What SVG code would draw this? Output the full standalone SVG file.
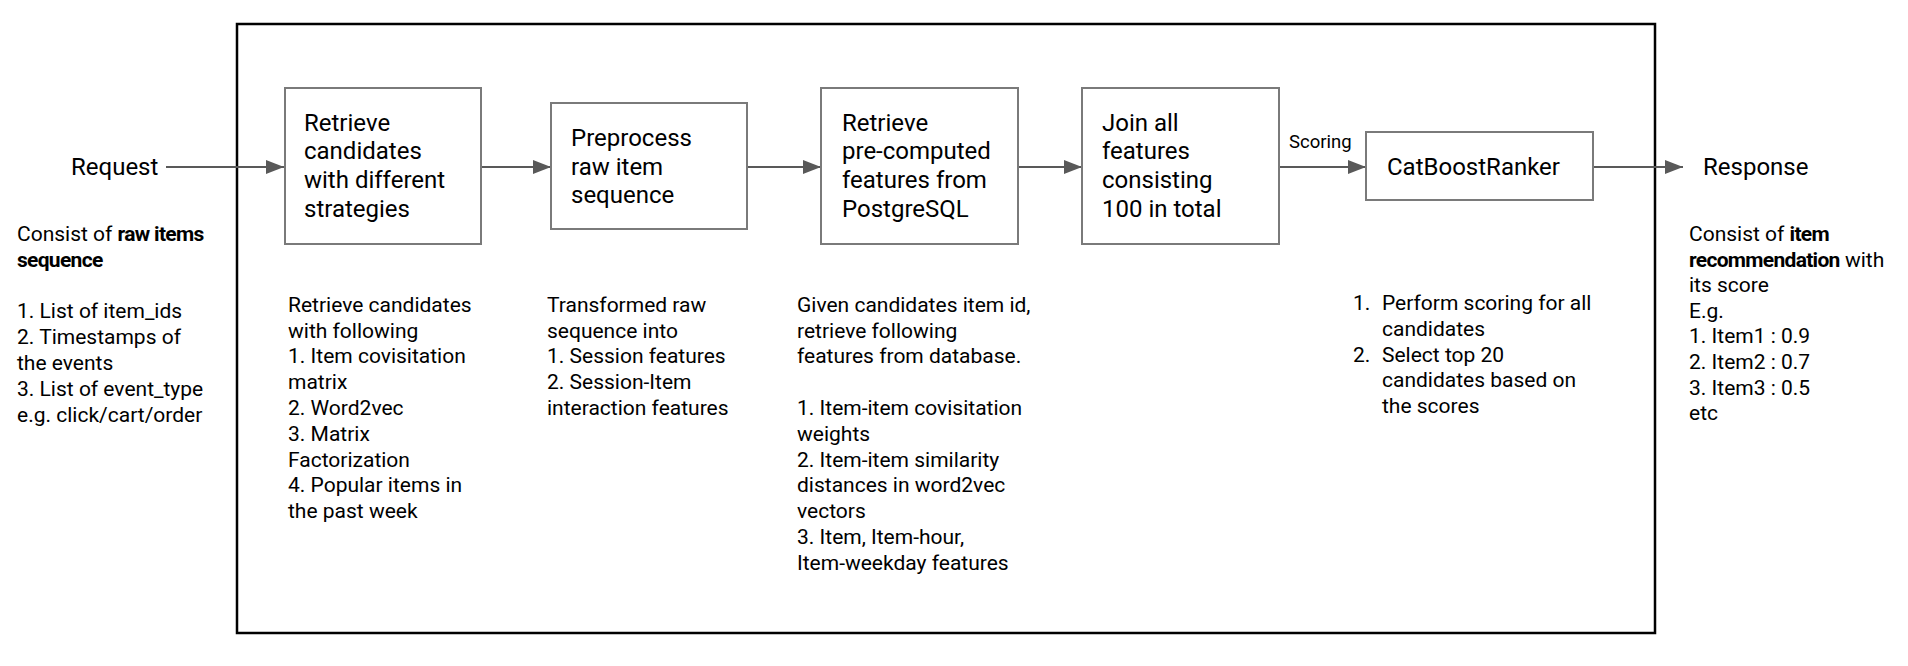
<svg xmlns="http://www.w3.org/2000/svg" width="1908" height="666" viewBox="0 0 1908 666">
<style>
text{font-family:Roboto,"Liberation Sans",sans-serif;fill:#000}
.big{font-size:24px}
.desc{font-size:21px}
.small{font-size:18.5px}
.box{fill:#fff;stroke:#7a7a7a;stroke-width:2}
.conn{stroke:#595959;stroke-width:2;fill:none}
.b{font-weight:bold;letter-spacing:-0.7px}
</style>
<defs>
<marker id="arr" markerUnits="userSpaceOnUse" markerWidth="18" markerHeight="14" refX="18" refY="7" orient="auto">
<path d="M0,0 L18,7 L0,14 z" fill="#595959"/>
</marker>
</defs>
<rect width="1908" height="666" fill="#fff"/>
<g id="frame">
<rect x="237" y="24" width="1418" height="609" fill="none" stroke="#000" stroke-width="2.5"/>
</g>
<g id="connectors">
<line class="conn" x1="166" y1="167" x2="284" y2="167" marker-end="url(#arr)"/>
<line class="conn" x1="481" y1="167" x2="551" y2="167" marker-end="url(#arr)"/>
<line class="conn" x1="747" y1="167" x2="821" y2="167" marker-end="url(#arr)"/>
<line class="conn" x1="1018" y1="167" x2="1082" y2="167" marker-end="url(#arr)"/>
<line class="conn" x1="1279" y1="167" x2="1366" y2="167" marker-end="url(#arr)"/>
<text class="small" x="1289" y="148">Scoring</text>
<line class="conn" x1="1593" y1="167" x2="1683" y2="167" marker-end="url(#arr)"/>
</g>
<g id="request">
<text class="big" x="71" y="175">Request</text>
<text class="desc" x="17" y="241">Consist of <tspan class="b">raw items</tspan></text>
<text class="desc b" x="17" y="266.7">sequence</text>
<text class="desc" x="17" y="318">1. List of item_ids</text>
<text class="desc" x="17" y="344">2. Timestamps of</text>
<text class="desc" x="17" y="370">the events</text>
<text class="desc" x="17" y="396">3. List of event_type</text>
<text class="desc" x="17" y="421.7">e.g. click/cart/order</text>
</g>
<g id="retrieve-candidates">
<rect class="box" x="285" y="88" width="196" height="156"/>
<text class="big" x="304"><tspan x="304" y="130.7">Retrieve</tspan><tspan x="304" y="159.4">candidates</tspan><tspan x="304" y="188.1">with different</tspan><tspan x="304" y="216.8">strategies</tspan></text>
<text class="desc"><tspan x="288" y="311.7">Retrieve candidates</tspan><tspan x="288" y="337.5">with following</tspan><tspan x="288" y="363.3">1. Item covisitation</tspan><tspan x="288" y="389.1">matrix</tspan><tspan x="288" y="414.9">2. Word2vec</tspan><tspan x="288" y="440.7">3. Matrix</tspan><tspan x="288" y="466.5">Factorization</tspan><tspan x="288" y="492.3">4. Popular items in</tspan><tspan x="288" y="518.1">the past week</tspan></text>
</g>
<g id="preprocess">
<rect class="box" x="551" y="103" width="196" height="126"/>
<text class="big"><tspan x="571" y="146">Preprocess</tspan><tspan x="571" y="174.7">raw item</tspan><tspan x="571" y="203.4">sequence</tspan></text>
<text class="desc"><tspan x="547" y="311.7">Transformed raw</tspan><tspan x="547" y="337.5">sequence into</tspan><tspan x="547" y="363.3">1. Session features</tspan><tspan x="547" y="389.1">2. Session-Item</tspan><tspan x="547" y="414.9">interaction features</tspan></text>
</g>
<g id="retrieve-features">
<rect class="box" x="821" y="88" width="197" height="156"/>
<text class="big"><tspan x="842" y="130.7">Retrieve</tspan><tspan x="842" y="159.4">pre-computed</tspan><tspan x="842" y="188.1">features from</tspan><tspan x="842" y="216.8">PostgreSQL</tspan></text>
<text class="desc"><tspan x="797" y="311.7">Given candidates item id,</tspan><tspan x="797" y="337.5">retrieve following</tspan><tspan x="797" y="363.3">features from database.</tspan><tspan x="797" y="414.9">1. Item-item covisitation</tspan><tspan x="797" y="440.7">weights</tspan><tspan x="797" y="466.5">2. Item-item similarity</tspan><tspan x="797" y="492.3">distances in word2vec</tspan><tspan x="797" y="518.1">vectors</tspan><tspan x="797" y="543.9">3. Item, Item-hour,</tspan><tspan x="797" y="569.7">Item-weekday features</tspan></text>
</g>
<g id="join-features">
<rect class="box" x="1082" y="88" width="197" height="156"/>
<text class="big"><tspan x="1102" y="130.7">Join all</tspan><tspan x="1102" y="159.4">features</tspan><tspan x="1102" y="188.1">consisting</tspan><tspan x="1102" y="216.8">100 in total</tspan></text>
</g>
<g id="catboost">
<rect class="box" x="1366" y="132" width="227" height="68"/>
<text class="big" x="1387" y="175">CatBoostRanker</text>
<text class="desc"><tspan x="1353" y="310">1.</tspan><tspan x="1382" y="310">Perform scoring for all</tspan><tspan x="1382" y="335.8">candidates</tspan><tspan x="1353" y="361.6">2.</tspan><tspan x="1382" y="361.6">Select top 20</tspan><tspan x="1382" y="387.4">candidates based on</tspan><tspan x="1382" y="413.2">the scores</tspan></text>
</g>
<g id="response">
<text class="big" x="1703" y="175">Response</text>
<text class="desc"><tspan x="1689" y="241">Consist of <tspan class="b">item</tspan></tspan><tspan x="1689" y="266.6"><tspan class="b">recommendation</tspan> with</tspan><tspan x="1689" y="292.2">its score</tspan><tspan x="1689" y="317.8">E.g.</tspan><tspan x="1689" y="343.4">1. Item1 : 0.9</tspan><tspan x="1689" y="369">2. Item2 : 0.7</tspan><tspan x="1689" y="394.6">3. Item3 : 0.5</tspan><tspan x="1689" y="420.2">etc</tspan></text>
</g>
</svg>
